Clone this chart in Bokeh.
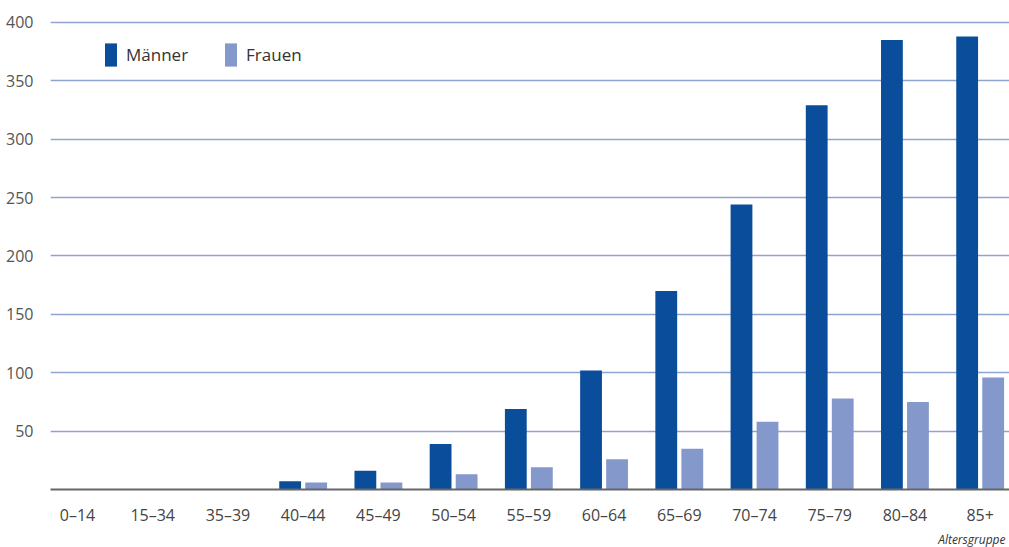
import numpy as np
from bokeh.plotting import figure
from bokeh.models import ColumnDataSource, FixedTicker, Range1d, Legend, LegendItem, Title
from bokeh.transform import dodge
from bokeh.embed import file_html
from bokeh.resources import INLINE

categories = ["0–14", "15–34", "35–39", "40–44", "45–49", "50–54", "55–59",
              "60–64", "65–69", "70–74", "75–79", "80–84", "85+"]
maenner = [0, 0, 0, 7, 16, 39, 69, 102, 170, 244, 329, 385, 388]
frauen = [0, 0, 0, 6, 6, 13, 19, 26, 35, 58, 78, 75, 96]
y_ticks = [50, 100, 150, 200, 250, 300, 350, 400]

idx = np.arange(len(categories))
src = ColumnDataSource(data=dict(x=idx, m=maenner, f=frauen))

p = figure(width=1009, height=547, output_backend="svg", toolbar_location=None,
           x_range=Range1d(-0.359, 12.39), y_range=Range1d(0, 418.8),
           min_border_left=50, min_border_right=0, min_border_top=0, min_border_bottom=58)
p.outline_line_color = None
p.background_fill_color = "white"

off = 0.173
bw = 0.29
rm = p.vbar(x=dodge("x", -off), top="m", width=bw, source=src,
            fill_color="#0a4e9b", line_color=None)
rf = p.vbar(x=dodge("x", off), top="f", width=bw, source=src,
            fill_color="#8598cc", line_color=None)

p.yaxis.ticker = FixedTicker(ticks=y_ticks)
p.yaxis.axis_line_color = None
p.yaxis.major_tick_line_color = None
p.yaxis.minor_tick_line_color = None
p.yaxis.major_label_text_font = "Open Sans"
p.yaxis.major_label_text_font_size = "16px"
p.yaxis.major_label_text_color = "#555555"
p.yaxis.major_label_standoff = 11

p.xaxis.ticker = FixedTicker(ticks=list(idx))
p.xaxis.major_label_overrides = {int(i): c for i, c in zip(idx, categories)}
p.xaxis.axis_line_color = "#666666"
p.xaxis.axis_line_width = 2
p.xaxis.major_tick_line_color = None
p.xaxis.minor_tick_line_color = None
p.xaxis.major_label_text_font = "Open Sans"
p.xaxis.major_label_text_font_size = "16px"
p.xaxis.major_label_text_color = "#444444"
p.xaxis.major_label_standoff = 8

p.xgrid.grid_line_color = None
p.ygrid.grid_line_color = "#8ea3cf"
p.ygrid.grid_line_width = 1.5

legend = Legend(items=[LegendItem(label="Männer", renderers=[rm]),
                       LegendItem(label="Frauen", renderers=[rf])],
                location=(53, 420), orientation="horizontal",
                glyph_width=15, glyph_height=29, padding=0, margin=0, spacing=35,
                label_standoff=8, border_line_color=None, background_fill_alpha=0,
                label_text_font="Open Sans", label_text_font_size="17px",
                label_text_color="#333333")
p.add_layout(legend)

p.add_layout(Title(text="Altersgruppe", align="right", text_font="Open Sans",
                   text_font_style="italic", text_font_size="12px",
                   text_color="#333333", offset=4, standoff=0), "below")

open("out.html", "w").write(file_html(p, INLINE))
